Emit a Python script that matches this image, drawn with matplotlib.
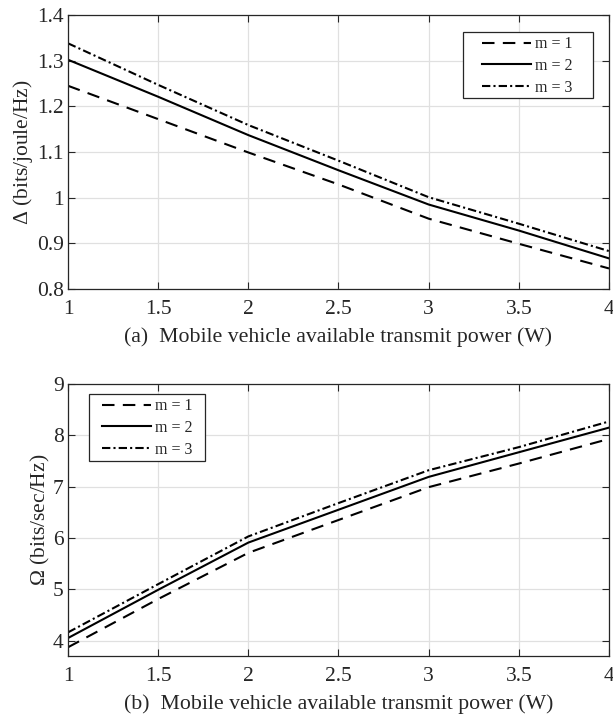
import matplotlib
matplotlib.use("Agg")
import matplotlib.pyplot as plt
from matplotlib.patches import Rectangle

plt.rcParams['font.family'] = ['Liberation Serif', 'DejaVu Serif']
plt.rcParams['mathtext.fontset'] = 'custom'
plt.rcParams['mathtext.rm'] = 'Liberation Serif'
plt.rcParams['mathtext.it'] = 'Liberation Serif'

power = [1, 1.5, 2, 2.5, 3, 3.5, 4]
labels = ['m = 1', 'm = 2', 'm = 3']

delta_m1 = [1.245, 1.172, 1.099, 1.029, 0.954, 0.899, 0.845]
delta_m2 = [1.302, 1.221, 1.137, 1.060, 0.985, 0.928, 0.867]
delta_m3 = [1.338, 1.247, 1.159, 1.081, 1.001, 0.943, 0.883]

omega_m1 = [3.87, 4.81, 5.71, 6.35, 6.99, 7.45, 7.93]
omega_m2 = [4.05, 4.99, 5.91, 6.55, 7.19, 7.67, 8.15]
omega_m3 = [4.16, 5.10, 6.03, 6.68, 7.32, 7.77, 8.27]

xticks = [1, 1.5, 2, 2.5, 3, 3.5, 4]
xticklabels = ['1', '1.5', '2', '2.5', '3', '3.5', '4']
yticks_a = [0.8, 0.9, 1.0, 1.1, 1.2, 1.3, 1.4]
yticklabels_a = ['0.8', '0.9', '1', '1.1', '1.2', '1.3', '1.4']
yticks_b = [4, 5, 6, 7, 8, 9]
yticklabels_b = ['4', '5', '6', '7', '8', '9']

W, H = 613, 714
fig = plt.figure(figsize=(W / 100, H / 100), dpi=100)

def axbox(l, t, r, b):
    return [l / W, 1 - b / H, (r - l) / W, (b - t) / H]

ax1 = fig.add_axes(axbox(68, 15, 609, 289))
ax2 = fig.add_axes(axbox(68, 384, 609, 656))

styles = [dict(ls=(0, (6, 4))), dict(ls='-'), dict(ls=(0, (4, 1.5, 1, 1.5)))]

fs = 15.5
dark = '#262626'

def style_ax(ax, yticks, yticklabels, ylim, xlabel, ylabel):
    ax.set_xlim(1, 4)
    ax.set_ylim(*ylim)
    ax.set_xticks(xticks)
    ax.set_xticklabels(xticklabels, fontsize=fs)
    ax.set_yticks(yticks)
    ax.set_yticklabels(yticklabels, fontsize=fs)
    ax.grid(True, color='#e0e0e0', lw=0.9)
    ax.set_axisbelow(True)
    ax.tick_params(direction='in', top=True, right=True, length=5, width=0.8,
                   color=dark, labelcolor=dark)
    ax.tick_params(axis='x', pad=8)
    ax.tick_params(axis='y', pad=3)
    for s in ax.spines.values():
        s.set_color(dark)
        s.set_linewidth(0.9)
    ax.set_xlabel(xlabel, fontsize=15.7, color=dark, labelpad=6)
    ax.set_ylabel(ylabel, fontsize=fs, color=dark, labelpad=1)

for y, lab, st in zip([delta_m1, delta_m2, delta_m3], labels, styles):
    ax1.plot(power, y, color='black', lw=1.5, label=lab, **st)
for y, lab, st in zip([omega_m1, omega_m2, omega_m3], labels, styles):
    ax2.plot(power, y, color='black', lw=1.5, label=lab, **st)

style_ax(ax1, yticks_a, yticklabels_a, (0.8, 1.4),
         '(a)  Mobile vehicle available transmit power (W)', r'$\Delta$ (bits/joule/Hz)')
style_ax(ax2, yticks_b, yticklabels_b, (3.7, 9),
         '(b)  Mobile vehicle available transmit power (W)', r'$\Omega$ (bits/sec/Hz)')

def px2fig(x, y):
    return x / W, 1 - y / H

leg_kw = dict(fontsize=11.5, frameon=False, handlelength=3.1, handletextpad=0.2,
              borderpad=0, labelspacing=0.36, borderaxespad=0, loc='center')

def add_legend(ax, cx, cy, box):
    l, t, r, b = box
    rect = Rectangle(px2fig(l, b), (r - l) / W, (b - t) / H,
                     transform=fig.transFigure, facecolor='white',
                     edgecolor=dark, lw=0.9, zorder=4, clip_on=False)
    ax.add_patch(rect)
    leg = ax.legend(bbox_to_anchor=px2fig(cx, cy), bbox_transform=fig.transFigure, **leg_kw)
    for txt in leg.get_texts():
        txt.set_color(dark)
    leg.set_zorder(6)

add_legend(ax1, 527, 66, (463, 32, 593, 98))
add_legend(ax2, 147, 428, (89, 394, 205, 461))

fig.savefig('out.png', dpi=100)
